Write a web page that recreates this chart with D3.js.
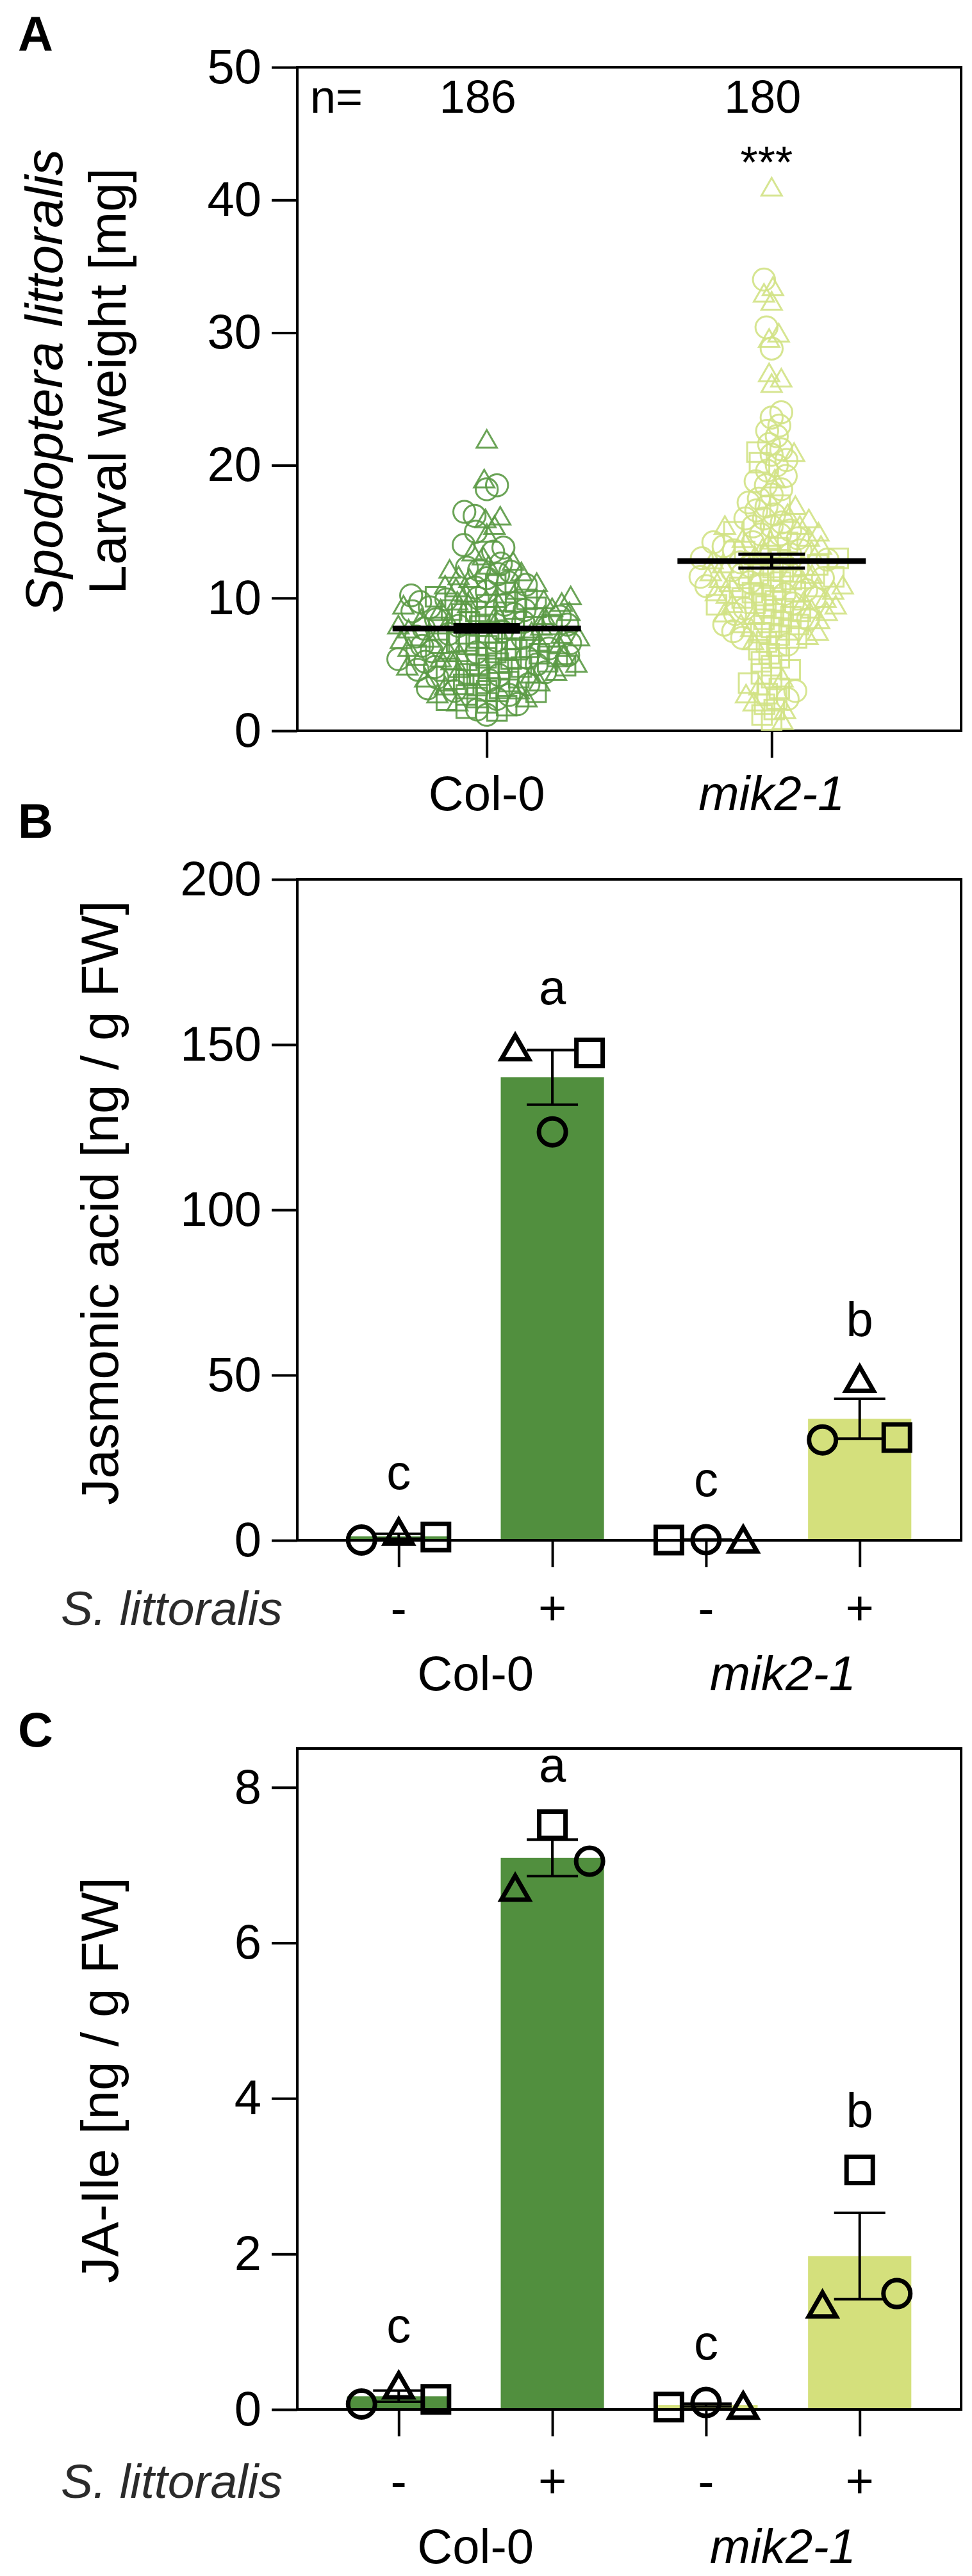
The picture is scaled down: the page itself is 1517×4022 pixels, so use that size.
<!DOCTYPE html>
<html>
<head>
<meta charset="utf-8">
<script src="https://cdn.jsdelivr.net/npm/d3@7"></script>
<style>
  body { margin: 0; background: #fff; }
</style>
</head>
<body>
<svg id="fig" width="1517" height="4022"></svg>
<script>
// ---------- data ----------
// A) larval weight per larva [mg], split by replicate symbol
const genotypes = ["Col-0", "mik2-1"];
const sampleSizes = [186, 180];

const colCircle = [18.5, 18.2, 16.5, 16.2, 15.0, 14.0, 13.8, 13.5, 12.6, 12.3, 12.1, 12.0, 11.8, 11.5, 11.2,
  11.0, 10.8, 10.5, 10.2, 10.0, 9.9, 9.7, 9.5, 9.3, 9.1, 9.0, 8.8, 8.6, 8.4, 8.2, 8.0, 7.9, 7.7, 7.5, 7.3,
  7.1, 7.0, 6.8, 6.6, 6.4, 6.2, 6.0, 5.9, 5.7, 5.5, 5.4, 5.2, 5.0, 4.8, 4.6, 4.4, 4.2, 4.0, 3.8, 3.5,
  3.2, 3.0, 2.7, 2.4, 2.0, 1.6, 1.2];
const colSquare = [11.0, 10.4, 10.1, 9.9, 9.7, 9.5, 9.3, 9.1, 9.0, 8.8, 8.6, 8.5, 8.3, 8.2, 8.0, 7.9, 7.7,
  7.6, 7.4, 7.3, 7.1, 7.0, 6.9, 6.7, 6.6, 6.5, 6.3, 6.2, 6.1, 5.9, 5.8, 5.7, 5.6, 5.5, 5.3, 5.2, 5.1, 5.0,
  4.9, 4.7, 4.6, 4.5, 4.3, 4.2, 4.0, 3.9, 3.7, 3.5, 3.4, 3.2, 3.0, 2.9, 2.7, 2.5, 2.3, 2.1, 1.9, 1.7, 1.5,
  6.4, 5.4, 4.8];
const colTriangle = [22.0, 19.0, 16.2, 16.0, 15.5, 14.9, 13.5, 13.2, 12.8, 12.5, 12.2, 12.0, 11.7, 11.5, 11.2,
  11.0, 10.8, 10.6, 10.4, 10.2, 10.0, 9.9, 9.8, 9.7, 9.6, 9.5, 9.3, 9.2, 9.0, 8.9, 8.7, 8.5, 8.3, 8.1, 7.9,
  7.7, 7.5, 7.3, 7.1, 6.9, 6.7, 6.5, 6.3, 6.1, 5.9, 5.7, 5.5, 5.3, 5.1, 4.9, 4.7, 4.5, 4.3, 4.0, 3.7,
  3.4, 3.1, 2.8, 2.5, 2.2, 7.0, 8.0];

const mikCircle = [34.0, 30.4, 28.8, 24.0, 23.6, 23.0, 22.6, 22.2, 21.6, 21.2, 20.8, 20.4, 20.0, 19.6, 19.2,
  18.8, 18.5, 18.2, 17.8, 17.5, 17.2, 16.9, 16.6, 16.3, 16.0, 15.7, 15.4, 15.1, 14.8, 14.5, 14.2, 13.9,
  13.6, 13.3, 13.0, 12.7, 12.4, 12.1, 11.8, 11.5, 11.2, 10.9, 10.6, 10.3, 10.0, 9.6, 9.2, 8.8, 8.4, 8.0,
  7.5, 7.0, 6.5, 16.0, 15.4, 14.8, 14.2, 13.6, 3.0, 2.4, 12.9, 11.6];
const mikSquare = [21.0, 20.2, 14.2, 13.8, 13.5, 13.2, 12.9, 12.6, 12.3, 12.0, 11.8, 11.6, 11.4, 11.2, 11.0,
  10.8, 10.6, 10.4, 10.2, 10.0, 9.8, 9.6, 9.4, 9.2, 9.0, 8.8, 8.6, 8.4, 8.2, 8.0, 7.8, 7.6, 7.4, 7.2, 7.0,
  6.7, 6.4, 6.1, 5.8, 5.5, 5.2, 4.9, 4.6, 4.3, 4.0, 3.6, 3.2, 2.8, 2.4, 2.0, 1.6, 1.2, 0.8, 10.5, 9.5,
  11.5, 12.5, 13.0, 17.0, 15.0];
const mikTriangle = [41.0, 33.5, 33.0, 32.4, 30.0, 29.6, 27.0, 26.6, 26.2, 21.0, 19.0, 17.0, 15.5, 14.6, 14.0,
  13.6, 13.2, 12.9, 12.6, 12.3, 12.0, 11.8, 11.5, 11.2, 11.0, 10.8, 10.5, 10.3, 10.0, 9.8, 9.5, 9.2, 9.0,
  8.7, 8.4, 8.1, 7.8, 7.5, 7.2, 6.8, 16.4, 16.0, 15.5, 15.0, 14.5, 4.0, 3.4, 2.8, 2.2, 1.6, 0.8, 13.8,
  12.4, 11.4, 10.6, 9.6, 8.9, 14.4];
const weightTicks = [0, 10, 20, 30, 40, 50];

// B, C) hormone levels, one value per replicate symbol and group
const hormoneGroups = ["Col-0 -", "Col-0 +", "mik2-1 -", "mik2-1 +"];
const treatments = ["-", "+", "-", "+"];

const jaCircle   = [0.1, 123.6, 0.2, 30.4];
const jaSquare   = [1.0, 147.5, 0.1, 31.1];
const jaTriangle = [2.6, 149.2, 0.3, 48.9];
const jaLetters  = ["c", "a", "c", "b"];
const jaTicks    = [0, 50, 100, 150, 200];
// left-to-right order of the replicate symbols in each bar
const jaOrder = [["circle", "triangle", "square"], ["triangle", "circle", "square"],
                 ["square", "circle", "triangle"], ["circle", "triangle", "square"]];

const jaIleCircle   = [0.07, 7.05, 0.09, 1.49];
const jaIleSquare   = [0.13, 7.52, 0.03, 3.08];
const jaIleTriangle = [0.31, 6.71, 0.05, 1.35];
const jaIleLetters  = ["c", "a", "c", "b"];
const jaIleTicks    = [0, 2, 4, 6, 8];
const jaIleOrder = [["circle", "triangle", "square"], ["triangle", "square", "circle"],
                    ["square", "circle", "triangle"], ["triangle", "square", "circle"]];

// ---------- setup ----------
const FONT = "'Liberation Sans', Arial, Helvetica, sans-serif";
const svg = d3.select("#fig");
const L = 464, R = 1500;
const dark = "#518f3e", light = "#d4e07c";

// triangle centred on its bounding box (like Prism draws it)
const triBox = {
  draw(ctx, size) {
    const w = Math.sqrt(size), h = w * 0.87;
    ctx.moveTo(0, -h / 2);
    ctx.lineTo(w / 2, h / 2);
    ctx.lineTo(-w / 2, h / 2);
    ctx.closePath();
  }
};
const shapeType = { circle: d3.symbolCircle, square: d3.symbolSquare, triangle: triBox };

function txt(x, y, s, size, opts = {}) {
  return svg.append("text")
    .attr("x", x).attr("y", y)
    .attr("font-family", FONT)
    .attr("font-size", size)
    .attr("font-style", opts.italic ? "italic" : "normal")
    .attr("font-weight", opts.bold ? "bold" : "normal")
    .attr("text-anchor", opts.anchor || "start")
    .attr("fill", opts.fill || "#000")
    .text(s);
}

function vtxt(x, y, s, size, italic) {
  return svg.append("text")
    .attr("transform", `translate(${x},${y}) rotate(-90)`)
    .attr("font-family", FONT)
    .attr("font-size", size)
    .attr("font-style", italic ? "italic" : "normal")
    .attr("text-anchor", "middle")
    .text(s);
}

function frame(top, bottom) {
  svg.append("rect")
    .attr("x", L).attr("y", top)
    .attr("width", R - L).attr("height", bottom - top)
    .attr("fill", "none").attr("stroke", "#000").attr("stroke-width", 4);
}

function yAxis(y, ticks) {
  svg.append("g")
    .attr("transform", `translate(${L},0)`)
    .call(d3.axisLeft(y).tickValues(ticks).tickSize(40).tickPadding(16).tickSizeOuter(0))
    .attr("font-size", 76).attr("font-family", FONT)
    .call(g => g.select(".domain").remove())
    .call(g => g.selectAll("line").attr("stroke-width", 4))
    .call(g => g.selectAll("text").attr("fill", "#000"));
}

function xAxis(x, bottom) {
  svg.append("g")
    .attr("transform", `translate(0,${bottom})`)
    .call(d3.axisBottom(x).tickSize(42).tickFormat("").tickSizeOuter(0))
    .call(g => g.select(".domain").remove())
    .call(g => g.selectAll("line").attr("stroke-width", 4));
}

// simple deterministic beeswarm: nearest free horizontal slot
function swarm(points, d, maxHalf) {
  const placed = [];
  points.sort((a, b) => a.v - b.v);
  points.forEach((p, i) => {
    const near = placed.filter(q => Math.abs(q.y - p.y) < d);
    let dx = (i % 2 ? 1 : -1) * maxHalf * 0.8;
    search:
    for (let k = 0; k <= maxHalf; k++) {
      const offs = k === 0 ? [0] : (i % 2 ? [k, -k] : [-k, k]);
      for (const off of offs) {
        if (near.every(q => (q.dx - off) ** 2 + (q.y - p.y) ** 2 >= d * d)) { dx = off; break search; }
      }
    }
    p.dx = dx;
    placed.push(p);
  });
  return points;
}

// ---------- panel A ----------
(function () {
  const top = 105, bottom = 1141;
  const y = d3.scaleLinear().domain([0, 50]).range([bottom, top]);
  const x = d3.scalePoint().domain(genotypes).range([L, R]).padding(0.665);
  const colors = ["#5b9a45", "#d2e285"];
  const sizes = { circle: 930, square: 930, triangle: 1000 };
  const sets = [
    { circle: colCircle, square: colSquare, triangle: colTriangle },
    { circle: mikCircle, square: mikSquare, triangle: mikTriangle }
  ];

  frame(top, bottom);

  genotypes.forEach((gname, gi) => {
    const pts = [];
    ["square", "circle", "triangle"].forEach(shape => {
      sets[gi][shape].forEach(v => pts.push({ v, shape, y: y(v) }));
    });
    swarm(pts, 17, 150);

    svg.append("g").selectAll("path")
      .data(pts)
      .join("path")
        .attr("transform", d => `translate(${x(gname) + d.dx},${d.y})`)
        .attr("d", d => d3.symbol(shapeType[d.shape], sizes[d.shape])())
        .attr("fill", "none")
        .attr("stroke", colors[gi])
        .attr("stroke-opacity", 0.9)
        .attr("stroke-width", 3);

    const vals = pts.map(p => p.v);
    const m = d3.mean(vals), se = d3.deviation(vals) / Math.sqrt(vals.length);
    const cx = x(gname);
    const g = svg.append("g").attr("stroke", "#000");
    g.append("line").attr("x1", cx - 147).attr("x2", cx + 147)
      .attr("y1", y(m)).attr("y2", y(m)).attr("stroke-width", 9);
    g.append("line").attr("x1", cx).attr("x2", cx)
      .attr("y1", y(m - se)).attr("y2", y(m + se)).attr("stroke-width", 5);
    [m - se, m + se].forEach(v => {
      g.append("line").attr("x1", cx - 52).attr("x2", cx + 52)
        .attr("y1", y(v)).attr("y2", y(v)).attr("stroke-width", 5);
    });

    txt(cx - 14, 176, sampleSizes[gi], 72, { anchor: "middle" });
    txt(cx, 1265, gname, 76, { anchor: "middle", italic: gi === 1 });
  });

  txt(484, 176, "n=", 72);
  txt(x("mik2-1") - 8, 278, "***", 70, { anchor: "middle" });

  yAxis(y, weightTicks);
  xAxis(x, bottom);

  vtxt(97, 595, "Spodoptera littoralis", 82, true);
  vtxt(196, 595, "Larval weight [mg]", 82, false);
  txt(28, 79, "A", 76, { bold: true });
})();

// ---------- panels B and C ----------
function barPanel(cfg) {
  const y = d3.scaleLinear().domain(cfg.domain).range([cfg.bottom, cfg.top]);
  const x = d3.scalePoint().domain(hormoneGroups).range([L, R]).padding(0.66);
  const step = x.step();
  const bw = step * 0.672;
  const sizes = { circle: 1385, square: 1681, triangle: 1850 };

  const rows = hormoneGroups.map((gname, i) => {
    const vals = { circle: cfg.circle[i], square: cfg.square[i], triangle: cfg.triangle[i] };
    const arr = [vals.circle, vals.square, vals.triangle];
    const m = d3.mean(arr), se = d3.deviation(arr) / Math.sqrt(arr.length);
    return { gname, i, vals, m, se, top: Math.max(d3.max(arr), m + se) };
  });

  // bars
  svg.append("g").selectAll("rect")
    .data(rows)
    .join("rect")
      .attr("x", d => x(d.gname) - bw / 2)
      .attr("width", bw)
      .attr("y", d => y(d.m))
      .attr("height", d => y(0) - y(d.m))
      .attr("fill", d => d.i < 2 ? dark : light);

  frame(cfg.top, cfg.bottom);

  // error bars (mean ± SEM)
  rows.forEach(d => {
    const cx = x(d.gname);
    const g = svg.append("g").attr("stroke", "#000").attr("stroke-width", 4);
    g.append("line").attr("x1", cx).attr("x2", cx)
      .attr("y1", y(d.m - d.se)).attr("y2", y(d.m + d.se));
    [d.m - d.se, d.m + d.se].forEach(v => {
      g.append("line").attr("x1", cx - 40).attr("x2", cx + 40)
        .attr("y1", y(v)).attr("y2", y(v));
    });
  });

  // replicate points
  const pts = [];
  rows.forEach(d => {
    cfg.order[d.i].forEach((shape, k) => {
      pts.push({ shape, v: d.vals[shape], cx: x(d.gname) + (k - 1) * step * 0.242 });
    });
  });
  svg.append("g").selectAll("path")
    .data(pts)
    .join("path")
      .attr("transform", d => `translate(${d.cx},${y(d.v)})`)
      .attr("d", d => d3.symbol(shapeType[d.shape], sizes[d.shape])())
      .attr("fill", "none")
      .attr("stroke", "#000")
      .attr("stroke-width", 7);

  // significance letters
  rows.forEach(d => txt(x(d.gname), y(d.top) - 67, cfg.letters[d.i], 76, { anchor: "middle" }));

  yAxis(y, cfg.ticks);
  xAxis(x, cfg.bottom);

  // treatment row
  txt(95, cfg.signBase, "S. littoralis", 75, { italic: true, fill: "#2b2b2b" });
  hormoneGroups.forEach((gname, i) => txt(x(gname), cfg.signBase, treatments[i], 76, { anchor: "middle" }));

  // genotype row
  txt((x(hormoneGroups[0]) + x(hormoneGroups[1])) / 2, cfg.genoBase, genotypes[0], 76, { anchor: "middle" });
  txt((x(hormoneGroups[2]) + x(hormoneGroups[3])) / 2, cfg.genoBase, genotypes[1], 76, { anchor: "middle", italic: true });

  vtxt(184, cfg.titleY, cfg.title, 82, false);
  txt(28, cfg.labelBase, cfg.label, 76, { bold: true });
}

barPanel({
  top: 1373, bottom: 2405, domain: [0, 200], ticks: jaTicks,
  circle: jaCircle, square: jaSquare, triangle: jaTriangle,
  order: jaOrder, letters: jaLetters,
  signBase: 2537, genoBase: 2639,
  title: "Jasmonic acid [ng / g FW]", titleY: 1878,
  label: "B", labelBase: 1308
});

barPanel({
  top: 2730, bottom: 3762, domain: [0, 8.5], ticks: jaIleTicks,
  circle: jaIleCircle, square: jaIleSquare, triangle: jaIleTriangle,
  order: jaIleOrder, letters: jaIleLetters,
  signBase: 3900, genoBase: 4002,
  title: "JA-Ile [ng / g FW]", titleY: 3248,
  label: "C", labelBase: 2727
});
</script>
</body>
</html>
